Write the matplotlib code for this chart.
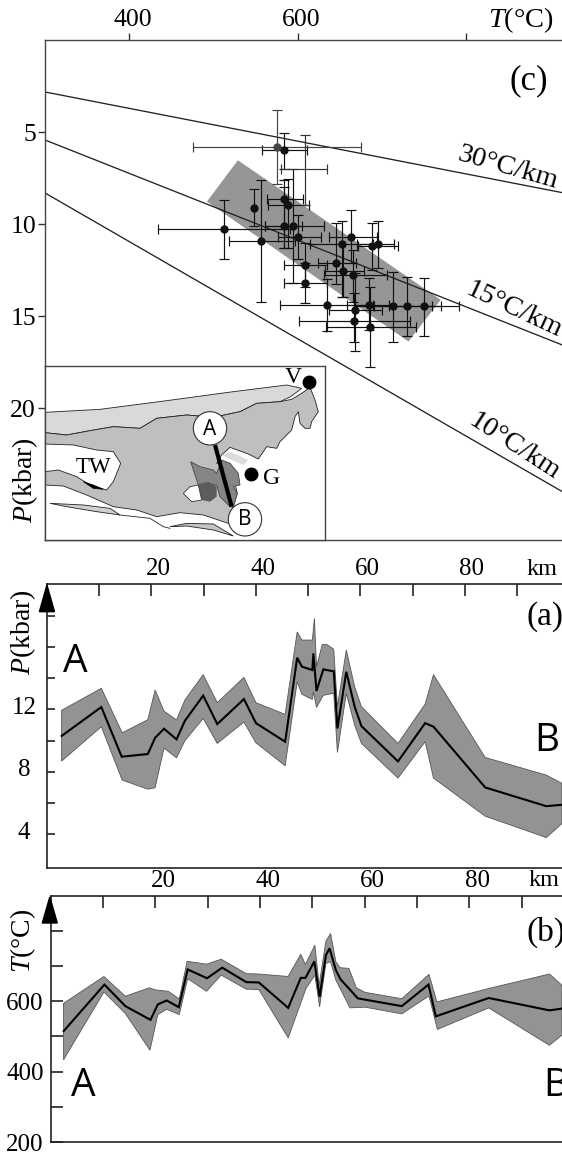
import matplotlib
matplotlib.use('Agg')
import numpy as np
import matplotlib.pyplot as plt
from matplotlib.patches import Polygon, Circle
from matplotlib.transforms import ScaledTranslation

plt.rcParams['font.family'] = ['Liberation Serif', 'DejaVu Serif']
plt.rcParams['mathtext.fontset'] = 'custom'
plt.rcParams['mathtext.it'] = 'Liberation Serif:italic'
plt.rcParams['mathtext.rm'] = 'Liberation Serif'

W, H = 562, 1155

# panel (c): T, P and error limits
pt_T = [583.3, 512, 547.7, 556.8, 583.3, 588.4, 583.3, 594, 601, 609, 609, 635, 645.8, 652.5,
        654.5, 663.6, 665.2, 688.5, 695.7, 668, 666.8, 685.8, 684.2, 713, 729.7, 750.3]
pt_P = [5.96, 10.28, 9.1, 10.89, 8.64, 8.97, 10.09, 10.09, 10.71, 12.2, 13.21, 14.37, 12.09, 11.07,
        12.56, 10.71, 12.76, 11.18, 11.07, 14.66, 15.24, 15.57, 14.37, 14.44, 14.44, 14.44]
pt_Tlo = [557.6, 433.7, 547.7, 518, 563.5, 564.3, 561.5, 561.5, 577.3, 583.3, 583.3, 579.3, 624.8, 615,
          632.7, 636.7, 630.8, 672.3, 671, 636.7, 601.9, 633.5, 658.5, 666.4, 690.9, 709]
pt_Thi = [611, 590.4, 547.7, 597, 606.2, 614, 605, 630.8, 627.6, 635.5, 635.5, 690.1, 669.5, 690.1,
          678.3, 694, 706, 719.8, 714.7, 700, 732.9, 740.4, 709, 759.4, 770, 792.2]
pt_Ptop = [5.02, 8.68, 8.1, 7.59, 7.59, 7.56, 7.99, 7.02, 9.5, 11.04, 12.12, 12.98, 9.91, 9.8,
           11.07, 9.22, 11.4, 9.91, 9.8, 12.67, 13.72, 13.43, 12.94, 12.61, 12.89, 12.9]
pt_Pbot = [7.0, 11.91, 10.09, 14.21, 11.31, 11.31, 11.31, 13.21, 11.91, 13.39, 14.26, 15.78, 13.27, 13.94,
           13.97, 12.12, 14.21, 12.49, 12.4, 16.87, 16.38, 17.74, 15.75, 16.38, 16.07, 16.07]
grey_pt = [575.4, 5.82, 475.3, 675.5, 3.8, 7.81]
nomark_pt = [608.2, 7.0, 580, 634.7, 5.13, 8.95]

band_T = [529.1, 492.3, 731.6, 770]
band_P = [6.52, 8.77, 16.38, 14.11]
geo_T = [300, 914]
geo30 = [2.81, 8.28]
geo15 = [5.42, 16.56]
geo10 = [8.3, 24.53]

# panel (a): pressure along the section
a_km = [2.8, 10.4, 14.3, 19.3, 20.7, 22.4, 24.8, 26.4, 29.9, 32.6, 37.7, 40, 45.6, 47.9, 48.8,
        50.8, 51, 51.6, 52.9, 54.9, 55.6, 57.3, 58.9, 60.2, 67.2, 72.4, 74, 83.9, 95.6, 98.6]
a_P = [10.3, 12.15, 8.97, 9.14, 10.18, 10.76, 10.08, 11.27, 12.88, 11.06, 12.66, 11.12, 9.93, 15.31, 14.74,
       14.52, 15.59, 13.18, 14.56, 14.44, 10.78, 14.41, 12.17, 10.93, 8.67, 11.12, 10.89, 7.0, 5.8, 5.89]
a_up_km = [2.8, 10.4, 14.4, 19.3, 20.7, 22.4, 24.8, 26.4, 29.9, 32.6, 37.7, 40, 45.6, 47.9, 48.8, 50.8,
           51.2, 51.6, 52.7, 53.6, 54.9, 55.6, 57.3, 58.9, 60.2, 67.2, 72.4, 74, 83.9, 95.6, 98.6]
a_up = [11.94, 13.35, 10.5, 11.34, 13.24, 11.89, 11.32, 12.6, 14.22, 12.43, 14.05, 12.43, 11.68, 16.96, 16.44, 16.44,
        17.83, 14.74, 16.15, 16.15, 15.85, 12.17, 15.8, 13.45, 12.17, 9.82, 12.34, 14.22, 8.92, 7.79, 7.26]
a_lo_km = [2.8, 10.4, 14.4, 19.3, 20.7, 22.4, 24.8, 26.4, 29.9, 32.6, 37.7, 40, 45.6, 47.9, 48.8,
           50.8, 51, 51.6, 52.9, 54.9, 55.6, 57.3, 58.9, 60.2, 67.2, 72.4, 74, 83.9, 95.6, 98.6]
a_lo = [8.69, 10.89, 7.47, 6.89, 6.98, 9.52, 8.9, 9.99, 11.42, 9.82, 11.19, 9.86, 8.39, 13.77, 12.97,
        12.64, 13.13, 12.13, 12.9, 13.03, 9.24, 13.03, 11.0, 9.82, 7.6, 9.93, 7.6, 5.16, 3.79, 4.69]

# panel (b): temperature along the section
b_km = [2.5, 10.3, 14.3, 19.1, 20.5, 22.2, 24.5, 26.2, 29.9, 32.8, 37.4, 39.8, 45.4, 47.8,
        48.7, 50.4, 51.4, 52.6, 53.3, 54.5, 55.4, 58.7, 67.1, 72.2, 73.6, 83.7, 95.3, 97.7]
b_T = [515, 647, 586, 547, 591, 602, 583, 690, 665, 695, 654, 653, 581, 666,
       666, 713, 612, 730, 750, 688, 662, 608, 586, 647, 557, 609, 574, 579]
b_up_km = [2.5, 10.2, 14.3, 18.9, 20, 22.5, 24.6, 26.1, 29.8, 32.6, 37.4, 39.8, 45.4, 47.8, 48.7, 50.5, 51.3,
           52.6, 53.5, 54.5, 55.3, 57, 58.4, 60.1, 67.1, 72.3, 73.8, 83.7, 95.3, 97.7]
b_up = [594, 670, 614, 638, 632, 628, 606, 713, 705, 719, 678, 677, 670, 733, 704, 759, 645,
        770, 792, 712, 695, 693, 638, 625, 607, 676, 598, 636, 677, 645]
b_lo_km = [2.5, 10.2, 14.3, 19, 20.5, 22.2, 24.6, 26.2, 29.8, 32.6, 37.4, 39.8, 45.4, 48.8, 50.5, 51.4,
           52.6, 53.5, 54.5, 57.2, 60.1, 67.1, 72.3, 73.9, 83.7, 95.3, 97.7]
b_lo = [434, 626, 565, 461, 562, 577, 562, 664, 628, 674, 634, 633, 496, 636, 674, 584,
        707, 712, 660, 581, 583, 564, 615, 520, 581, 475, 504]

# inset map outlines, in inset units
map_light = [(135, 157), (300, 148), (500, 122), (700, 95), (860, 75), (905, 85), (872, 110), (840, 125), (770, 130),
             (720, 155), (640, 172), (560, 165), (470, 175), (420, 205), (340, 200), (270, 212), (200, 225), (135, 218)]
map_body = [(135, 218), (200, 225), (270, 212), (340, 200), (420, 205), (470, 175), (560, 165), (640, 172), (720, 155),
            (770, 130), (840, 125), (875, 118), (905, 100), (930, 82), (945, 120), (955, 155), (935, 185), (930, 205),
            (915, 205), (900, 190), (895, 155), (885, 170), (875, 210), (840, 245), (830, 265), (800, 260), (775, 297),
            (745, 282), (690, 262), (665, 285), (650, 310), (690, 310), (712, 400), (700, 440), (685, 490), (610, 465),
            (540, 458), (470, 470), (410, 450), (340, 440), (260, 405), (190, 378), (135, 375)]
map_hole_w = [(135, 252), (220, 255), (290, 270), (340, 275), (362, 310), (340, 365), (320, 390), (270, 375),
              (230, 350), (175, 330), (135, 335)]
map_patch = [(665, 285), (690, 275), (745, 300), (730, 315), (695, 300)]
map_unit = [(572, 305), (600, 320), (640, 330), (650, 340), (665, 300), (690, 310), (715, 340), (720, 375), (700, 380),
            (712, 400), (700, 440), (690, 440), (660, 410), (650, 375), (610, 370), (595, 375)]
map_dark = [(595, 375), (625, 365), (650, 380), (650, 410), (630, 425), (605, 420)]
map_hole_e = [(550, 400), (570, 380), (595, 375), (605, 420), (575, 425)]
map_sliver1 = [(150, 430), (250, 435), (330, 445), (360, 465), (290, 455), (200, 440)]
map_sliver2 = [(510, 500), (560, 490), (640, 492), (700, 528), (640, 510), (560, 498)]
map_coast = [(360, 465), (450, 475), (490, 500), (510, 505)]
map_wedge = [(250, 365), (280, 375), (310, 388), (280, 385)]
section_line = [(645, 255), (695, 440)]


def box(left, top, right, bottom):
    return [left / W, 1 - bottom / H, (right - left) / W, (bottom - top) / H]


def label(x, y, s, **kw):
    kw.setdefault('ha', 'center')
    kw.setdefault('va', 'center')
    fig.text(x / W, 1 - y / H, s, **kw)


def arrow(x0, x1, y_tip, y_base):
    tri = [((x0 + x1) / 2 / W, 1 - y_tip / H), (x0 / W, 1 - y_base / H), (x1 / W, 1 - y_base / H)]
    fig.patches.append(Polygon(tri, closed=True, color='k', transform=fig.transFigure, zorder=10))


def shift(lab, dx, dy=0):
    lab.set_transform(lab.get_transform() + ScaledTranslation(dx * 0.72 / 72, dy * 0.72 / 72, fig.dpi_scale_trans))


def profile(ax, x, y, xu, yu, xl, yl):
    poly = list(zip(xu, yu)) + list(zip(xl, yl))[::-1]
    ax.add_patch(Polygon(poly, closed=True, fc='#939393', ec='#555555', lw=0.6))
    ax.plot(x, y, color='k', lw=1.5, solid_joinstyle='miter')
    ax.spines['right'].set_visible(False)
    for s in ['left', 'top', 'bottom']:
        ax.spines[s].set_linewidth(1.2)
        ax.spines[s].set_color('#222222')
    ax.xaxis.tick_top()
    ax.set_xticks(np.arange(10, 100, 10))
    ax.set_xticklabels(['', '20', '', '40', '', '60', '', '80', ''])
    ax.tick_params(axis='x', direction='in', length=8.5, width=1.2, labelsize=18, pad=3, color='#222222')


fig = plt.figure(figsize=(W / 100, H / 100), dpi=100)

# (c) P-T diagram
axc = fig.add_axes(box(45, 40.3, 562, 540))
axc.set_xlim(300, 914)
axc.set_ylim(27.17, 0)
axc.fill(band_T, band_P, color='#969696', lw=0, zorder=1)
for g in [geo30, geo15, geo10]:
    axc.plot(geo_T, g, color='#222222', lw=0.95, zorder=2)


def bars(T, P, lo, hi, top, bot, color, ms, marker='o'):
    T, P = np.atleast_1d(T), np.atleast_1d(P)
    xerr = [T - np.atleast_1d(lo), np.atleast_1d(hi) - T]
    yerr = [P - np.atleast_1d(top), np.atleast_1d(bot) - P]
    axc.errorbar(T, P, xerr=xerr, yerr=yerr, fmt=marker, color=color, ms=ms, lw=0.85,
                 elinewidth=0.85, capsize=3.4, capthick=0.85, zorder=3)


bars(pt_T, pt_P, pt_Tlo, pt_Thi, pt_Ptop, pt_Pbot, '#111111', 5.0)
g = grey_pt
bars(g[0], g[1], g[2], g[3], g[4], g[5], '#444444', 5.0)
g = nomark_pt
bars(g[0], g[1], g[2], g[3], g[4], g[5], '#333333', 0, marker='none')

axc.xaxis.tick_top()
axc.set_xticks([400, 600, 800])
axc.set_xticklabels(['400', '600', ''])
axc.set_yticks([5, 10, 15, 20])
axc.tick_params(axis='both', direction='out', length=5, width=1.0, labelsize=18.5, color='#333333')
axc.tick_params(axis='x', pad=1.5)
axc.tick_params(axis='y', pad=1.5)
axc.spines['right'].set_visible(False)
for s in ['left', 'top', 'bottom']:
    axc.spines[s].set_linewidth(1.0)
    axc.spines[s].set_color('#444444')
for t in axc.get_xticklabels():
    shift(t, 3.6)

label(488, 20, r'$\mathit{T}$(°C)', fontsize=20.5, ha='left')
label(529, 81, '(c)', fontsize=25)
label(25, 480, r'$\mathit{P}$(kbar)', fontsize=20, rotation=90)
label(508, 168, '30°C/km', fontsize=20.5, rotation=-16)
label(514, 310, '15°C/km', fontsize=20.5, rotation=-25)
label(514, 447, '10°C/km', fontsize=20.5, rotation=-33)

# inset map
axm = fig.add_axes(box(45, 366, 325, 540), zorder=5)
axm.set_xlim(135, 975)
axm.set_ylim(540, 18)
axm.set_xticks([])
axm.set_yticks([])
for s in axm.spines.values():
    s.set_linewidth(1.0)
    s.set_color('#444444')
for pts, col, edge in [(map_light, '#d9d9d9', '#222222'), (map_body, '#bfbfbf', '#222222'), (map_hole_w, 'white', '#222222'),
                       (map_patch, '#dcdcdc', 'none'), (map_unit, '#858585', '#444444'), (map_dark, '#5c5c5c', 'none'),
                       (map_hole_e, 'white', '#333333'), (map_sliver1, '#cfcfcf', '#222222'),
                       (map_sliver2, '#c4c4c4', '#222222')]:
    axm.add_patch(Polygon(pts, closed=True, fc=col, ec=edge, lw=0.6))
axm.add_patch(Polygon(map_wedge, closed=True, fc='k', ec='k', lw=0.5))
axm.plot([p[0] for p in map_coast], [p[1] for p in map_coast], color='#222222', lw=0.6)
axm.plot([p[0] for p in section_line], [p[1] for p in section_line], color='k', lw=3, solid_capstyle='butt')
axm.add_patch(Circle((630, 205), 50, fc='white', ec='#333333', lw=0.8, zorder=6))
axm.add_patch(Circle((735, 478), 50, fc='white', ec='#333333', lw=0.8, zorder=6))
axm.plot([928, 752], [67, 342], 'o', color='k', ms=9, ls='none')
axm.text(630, 208, 'A', family='Open Sans', fontsize=15, ha='center', va='center', zorder=7)
axm.text(735, 480, 'B', family='Open Sans', fontsize=15, ha='center', va='center', zorder=7)
axm.text(880, 52, 'V', fontsize=17, ha='center', va='center')
axm.text(815, 356, 'G', fontsize=17, ha='center', va='center')
axm.text(280, 322, 'TW', fontsize=16.5, ha='center', va='center')

# (a) pressure profile
axa = fig.add_axes(box(47, 583.7, 562, 867.7))
axa.set_xlim(0, 98.6)
axa.set_ylim(1.86, 20.05)
profile(axa, a_km, a_P, a_up_km, a_up, a_lo_km, a_lo)
axa.set_yticks(np.arange(4, 20, 2))
axa.set_yticklabels(['4', '', '8', '', '12', '', '', ''])
axa.tick_params(axis='y', direction='in', length=6, width=1.2, labelsize=18, pad=0, color='#222222')
for t in axa.get_yticklabels():
    t.set_ha('center')
    shift(t, -23, 4)
for t in axa.get_xticklabels():
    shift(t, 7)
arrow(39.4, 54.5, 585, 611.7)
label(23, 632, r'$\mathit{P}$(kbar)', fontsize=20, rotation=90)
label(527, 570, 'km', fontsize=17.5, ha='left')
label(545, 617, '(a)', fontsize=24)
label(75, 662, 'A', family='Open Sans', fontsize=28)
label(547, 741, 'B', family='Open Sans', fontsize=28)

# (b) temperature profile
axb = fig.add_axes(box(50.5, 895.7, 562, 1142.3))
axb.set_xlim(0, 97.7)
axb.set_ylim(200, 899)
profile(axb, b_km, b_T, b_up_km, b_up, b_lo_km, b_lo)
axb.set_yticks(np.arange(200, 900, 100))
axb.set_yticklabels(['200', '', '400', '', '600', '', ''])
axb.tick_params(axis='y', direction='in', length=8.5, width=1.2, labelsize=18, pad=5, color='#222222')
for t in axb.get_xticklabels():
    shift(t, 8)
arrow(42.3, 57.3, 897, 923)
label(23, 941, r'$\mathit{T}$(°C)', fontsize=20, rotation=90)
label(529, 881, 'km', fontsize=17.5, ha='left')
label(546, 932, '(b)', fontsize=24)
label(83, 1086, 'A', family='Open Sans', fontsize=28)
label(556, 1086, 'B', family='Open Sans', fontsize=28)

fig.savefig('out.png', dpi=100)
